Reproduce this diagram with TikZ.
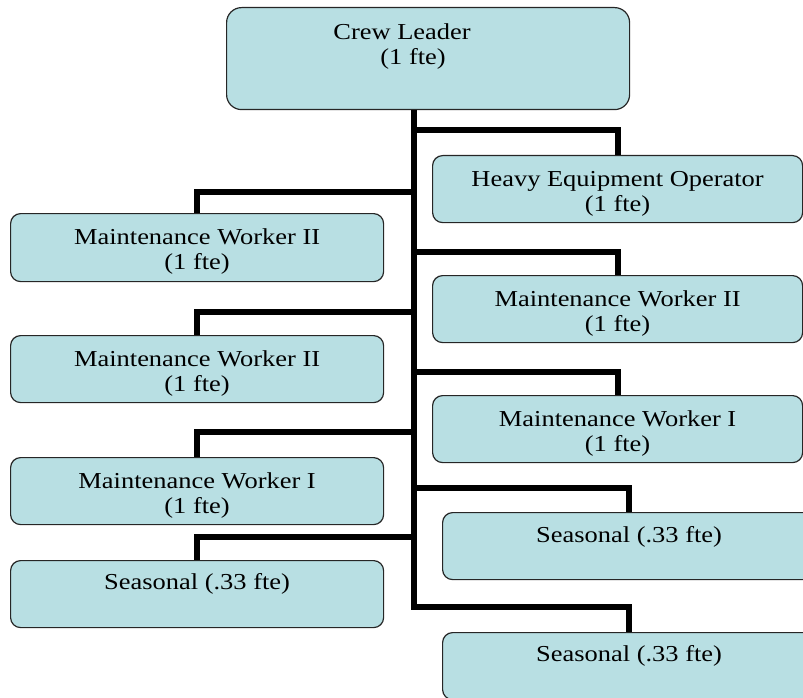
\documentclass[tikz,border=0pt]{standalone}
\usepackage{fontspec}
\setmainfont[FakeStretch=1.16]{Liberation Serif}
\definecolor{cellfill}{HTML}{B8DFE3}
% #1 width, #2 height, #3 distance from top to first baseline, #4 text
\newcommand{\orgcell}[4]{\parbox[t][#2][t]{#1}{\centering\rule{0pt}{#3}#4}}
\begin{document}
\begin{tikzpicture}[x=1pt,y=-1pt,
  cell/.style={draw=black!85, line width=1.2pt, fill=cellfill,
    rounded corners=10pt, inner sep=0pt, anchor=north west,
    font=\fontsize{22.8}{25}\selectfont},
  lead/.style={cell, rounded corners=15pt},
  link/.style={line width=6pt}]
\useasboundingbox (0,0) rectangle (803,698);
\clip (0,0) rectangle (803,698);

% positions
\node[lead] (cl) at (226,7)
  {\orgcell{403pt}{102pt}{32pt}{Crew Leader\rule{52pt}{0pt}\\(1 fte)\rule{30pt}{0pt}}};
\node[cell] (heo) at (432,155) {\orgcell{370pt}{67pt}{31pt}{Heavy Equipment Operator\\(1 fte)}};
\node[cell] (l1)  at (10,213)  {\orgcell{373pt}{68pt}{31pt}{Maintenance Worker II\\(1 fte)}};
\node[cell] (r2)  at (432,275) {\orgcell{370pt}{67pt}{31pt}{Maintenance Worker II\\(1 fte)}};
\node[cell] (l2)  at (10,335)  {\orgcell{373pt}{67pt}{31pt}{Maintenance Worker II\\(1 fte)}};
\node[cell] (r3)  at (432,395) {\orgcell{370pt}{67pt}{31pt}{Maintenance Worker I\\(1 fte)}};
\node[cell] (l3)  at (10,457)  {\orgcell{373pt}{67pt}{31pt}{Maintenance Worker I\\(1 fte)}};
\node[cell] (r4)  at (442,512) {\orgcell{373pt}{67pt}{30pt}{Seasonal (.33 fte)}};
\node[cell] (l4)  at (10,560)  {\orgcell{373pt}{67pt}{29pt}{Seasonal (.33 fte)}};
\node[cell] (r5)  at (442,632) {\orgcell{373pt}{67pt}{29pt}{Seasonal (.33 fte)}};

% reporting lines
\coordinate (top) at ([xshift=-14.5pt]cl.south);
\foreach \c/\d in {heo/25, l1/21, r2/23, l2/23, r3/23, l3/25, r4/24, l4/23} {
  \coordinate (\c-j) at ([yshift=\d pt]\c.north);
  \draw[link] (top |- \c-j) -- (\c-j) -- (\c.north);
}
\coordinate (r5-j) at ([yshift=25pt]r5.north);
\draw[link] (top) |- (r5-j) -- (r5.north);
\end{tikzpicture}
\end{document}
